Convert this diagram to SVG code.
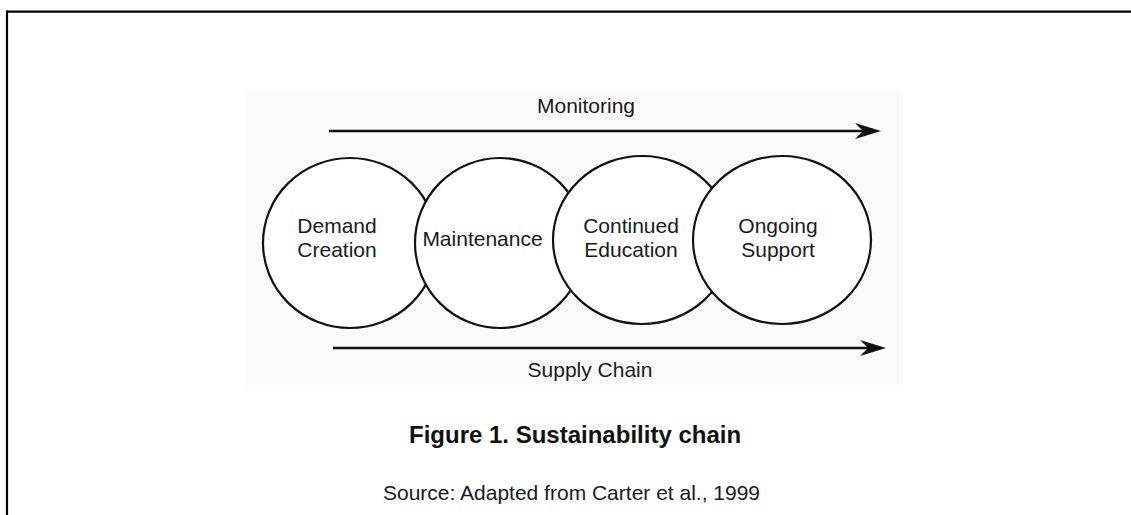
<svg xmlns="http://www.w3.org/2000/svg" width="1131" height="515" viewBox="0 0 1131 515">
<style>
  .lbl { font-family: "Liberation Sans", Arial, sans-serif; font-size: 21px; fill: #1a1a1a; text-anchor: middle; }
  .node { fill: #ffffff; stroke: #111111; stroke-width: 2.2; }
  .conn { stroke: #111111; stroke-width: 2.6; fill: none; }
  .cap { font-family: "Liberation Sans", Arial, sans-serif; font-size: 24px; font-weight: bold; fill: #111111; }
  .src { font-family: "Liberation Sans", Arial, sans-serif; font-size: 21px; fill: #1a1a1a; }
</style>
<defs>
  <marker id="arrow" markerUnits="userSpaceOnUse" markerWidth="26" markerHeight="16" viewBox="0 0 26 16" refX="16" refY="8" orient="auto">
    <path d="M0,0 L26,8 L0,16 L8,8 z" fill="#111111"/>
  </marker>
</defs>
<rect x="0" y="0" width="1131" height="515" fill="#ffffff"/>
<g id="frame">
  <line x1="7" y1="11.7" x2="1131" y2="11.7" stroke="#000" stroke-width="2.2"/>
  <line x1="7" y1="10.6" x2="7" y2="515" stroke="#000" stroke-width="2.2"/>
</g>
<rect id="panel" x="245" y="90" width="658" height="295" fill="#fafafa"/>
<g id="connectors">
  <g id="monitoring">
    <line class="conn" x1="329" y1="131" x2="871" y2="131" marker-end="url(#arrow)"/>
    <text class="lbl" x="586" y="113">Monitoring</text>
  </g>
  <g id="supply-chain">
    <line class="conn" x1="333" y1="348" x2="876" y2="348" marker-end="url(#arrow)"/>
    <text class="lbl" x="590" y="377">Supply Chain</text>
  </g>
</g>
<g id="demand-creation">
  <ellipse class="node" cx="350" cy="243" rx="87" ry="85"/>
  <text class="lbl" x="337" y="233">Demand</text>
  <text class="lbl" x="337" y="257">Creation</text>
</g>
<g id="maintenance">
  <ellipse class="node" cx="500" cy="243" rx="85" ry="85"/>
  <text class="lbl" x="482.5" y="246">Maintenance</text>
</g>
<g id="continued-education">
  <ellipse class="node" cx="642" cy="240" rx="89" ry="84"/>
  <text class="lbl" x="631" y="233">Continued</text>
  <text class="lbl" x="631" y="257">Education</text>
</g>
<g id="ongoing-support">
  <ellipse class="node" cx="782" cy="240" rx="89" ry="84"/>
  <text class="lbl" x="778" y="233">Ongoing</text>
  <text class="lbl" x="778" y="257">Support</text>
</g>
<text class="cap" x="409" y="443">Figure 1. Sustainability chain</text>
<text class="src" x="383" y="500">Source: Adapted from Carter et al., 1999</text>
</svg>
